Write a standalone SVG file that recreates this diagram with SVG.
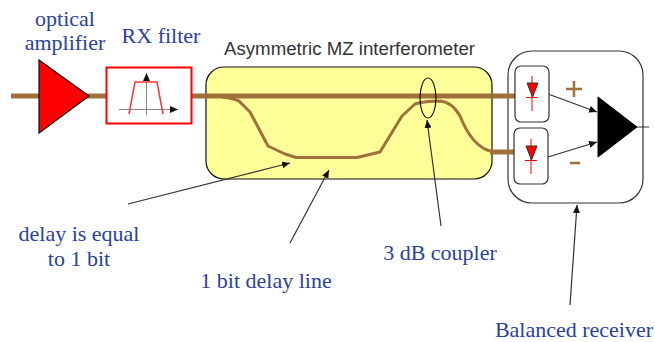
<svg xmlns="http://www.w3.org/2000/svg" width="655" height="342" viewBox="0 0 655 342">
<style>
.lb{font-family:"Liberation Serif",serif;font-size:22px;fill:#2a429a}
.fib{fill:none;stroke:#a0703c;stroke-linejoin:round}
.ar{stroke:#333;stroke-width:1.2;fill:none;marker-end:url(#ah)}
.det{fill:#fff;stroke:#333;stroke-width:1.2}
.rl{stroke:#f00;stroke-width:1;fill:none}
</style>
<defs>
<marker id="ah" markerUnits="userSpaceOnUse" markerWidth="9" markerHeight="8" refX="8" refY="3.5" orient="auto"><path d="M0 0L8 3.5L0 7z" fill="#111"/></marker>
</defs>
<rect width="655" height="342" fill="#fff"/>
<g id="mz">
<rect x="206" y="67" width="286" height="112" rx="18" fill="#ffff99" stroke="#111" stroke-width="1.2"/>
<text x="224" y="55" textLength="251" lengthAdjust="spacingAndGlyphs" style="font-family:'Liberation Sans',sans-serif;font-size:18px;fill:#333">Asymmetric MZ interferometer</text>
</g>
<g id="receiver">
<rect x="508" y="51" width="135" height="152" rx="24" fill="#fff" stroke="#333" stroke-width="1.2"/>
</g>
<g id="connectors">
<path class="fib" stroke-width="5" d="M11 96H106M192 96H516"/>
<path class="fib" stroke-width="3" d="M222 97Q232 98 239 101L250 112L268 146L285 154L296 157.500H357L380 152L402 116L415 104Q424 101 440 101Q452 102 460 116Q472 146 490 151"/>
<path class="fib" stroke-width="5" d="M490 152H516"/>
<path class="ar" d="M128 204L290 163"/>
<path class="ar" d="M290 243L329 170"/>
<path class="ar" d="M441 226L427 120"/>
<path class="ar" d="M570 305L577 205"/>
<path class="ar" d="M548 94L597 112"/>
<path class="ar" d="M548 157L597 142"/>
<path d="M637 127H649" stroke="#333" fill="none"/>
</g>
<g id="amplifier">
<path d="M39 60L89 96L39 133z" fill="#f00" stroke="#111" stroke-width="1.200"/>
<text class="lb" x="65" y="26" text-anchor="middle">optical</text>
<text class="lb" x="65" y="50" text-anchor="middle">amplifier</text>
</g>
<g id="filter">
<rect x="106.500" y="67.500" width="85" height="56" fill="#fff" stroke="#f00" stroke-width="2"/>
<path d="M146.500 115V73" stroke="#888" fill="none" marker-end="url(#ah)"/>
<path d="M119 109.500H178" stroke="#888" fill="none" marker-end="url(#ah)"/>
<path d="M129 114L135 82H157L163 114" stroke="#f33" stroke-width="1.500" fill="none"/>
<text class="lb" x="161" y="43" text-anchor="middle">RX filter</text>
</g>
<g id="coupler">
<ellipse cx="428" cy="98" rx="8" ry="20" fill="none" stroke="#111" stroke-width="1.200"/>
</g>
<g id="detector-top">
<rect class="det" x="515" y="66" width="34" height="56" rx="6"/>
<path class="rl" d="M532 76V111M526 97.500H538"/>
<path d="M527 83H538L532.500 97z" fill="#f00" stroke="#333"/>
</g>
<g id="detector-bottom">
<rect class="det" x="514" y="128" width="34" height="56" rx="6"/>
<path class="rl" d="M531 139V174M525 160.500H537"/>
<path d="M526 146H537L531.500 160z" fill="#f00" stroke="#333"/>
</g>
<g id="diff-amp">
<path d="M598 97L637 127L598 157z" fill="#000" stroke="#000"/>
</g>
<g id="signs">
<path d="M566 89H582M574 81V97" stroke="#a0703c" stroke-width="2.500" fill="none"/>
<path d="M570 163H580" stroke="#a0703c" stroke-width="2.500" fill="none"/>
</g>
<g id="labels">
<text class="lb" x="79" y="241" text-anchor="middle">delay is equal</text>
<text class="lb" x="79" y="266" text-anchor="middle">to 1 bit</text>
<text class="lb" x="266" y="288" text-anchor="middle">1 bit delay line</text>
<text class="lb" x="440" y="260" text-anchor="middle">3 dB coupler</text>
<text class="lb" x="574" y="337" text-anchor="middle">Balanced receiver</text>
</g>
</svg>
